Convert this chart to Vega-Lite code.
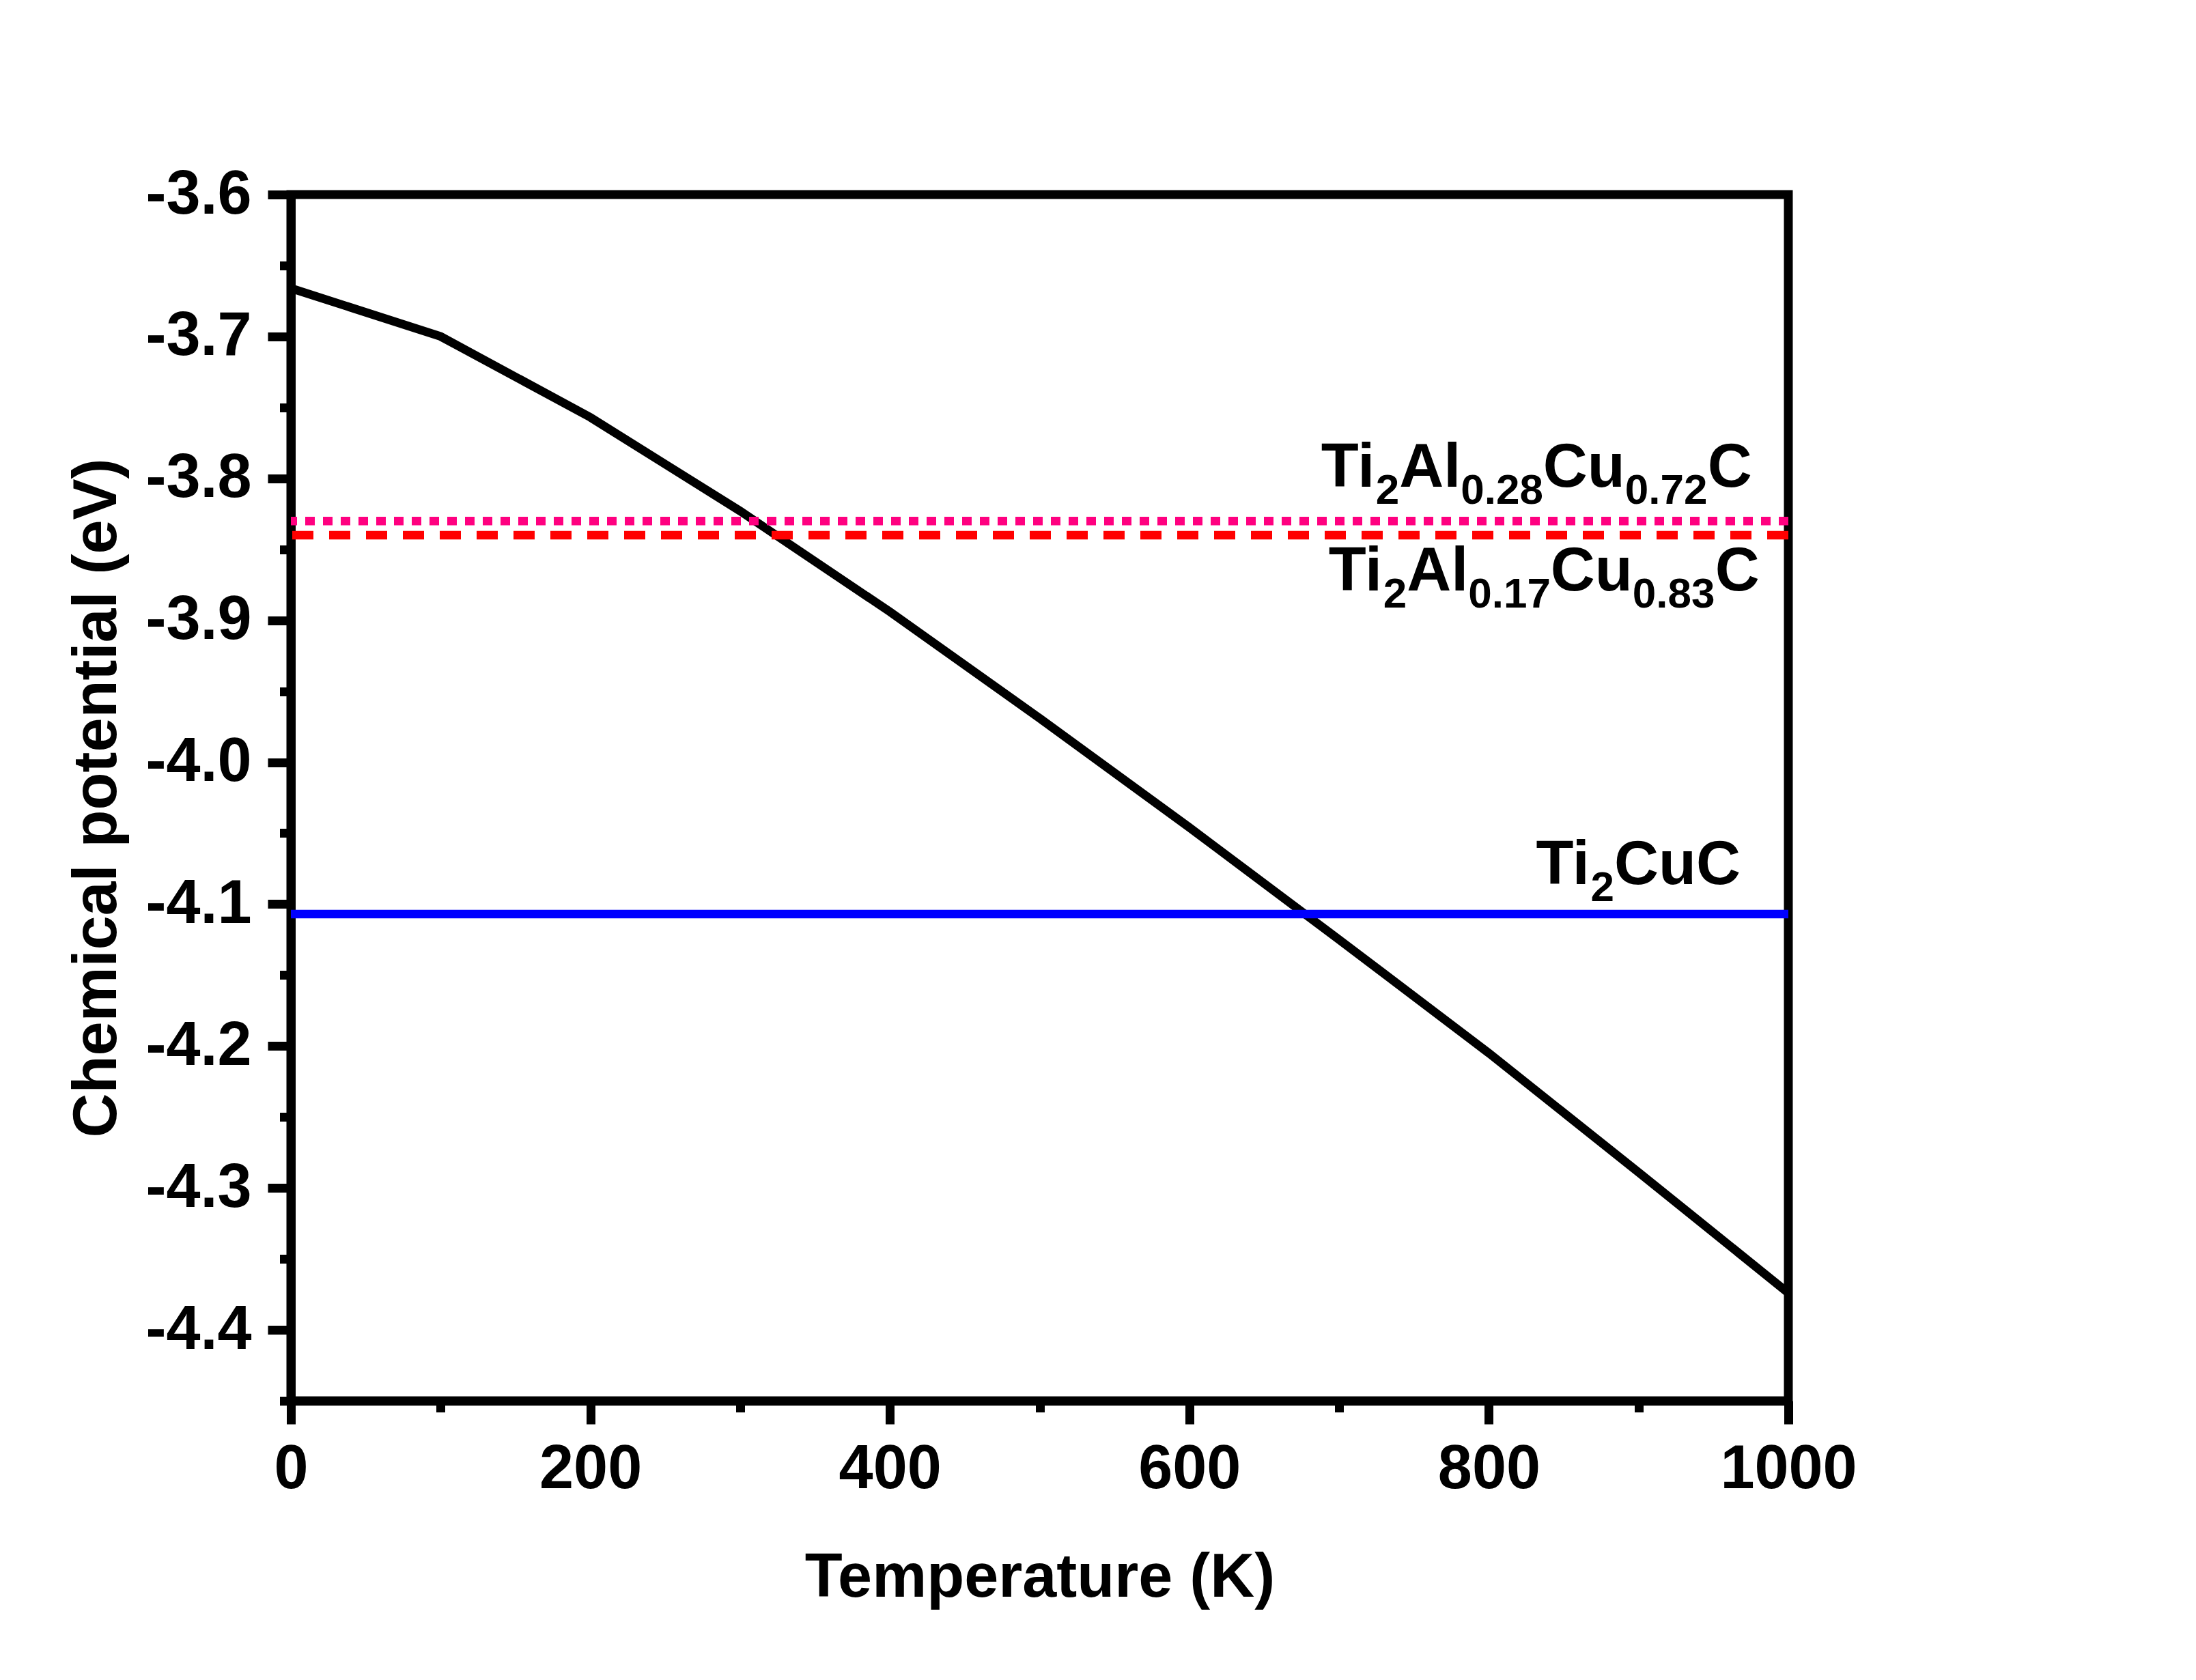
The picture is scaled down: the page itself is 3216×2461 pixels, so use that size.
{
  "$schema": "https://vega.github.io/schema/vega-lite/v6.json",
  "autosize": {"type": "none"},
  "padding": {"left": 426, "top": 285, "right": 597, "bottom": 409},
  "width": 2193,
  "height": 1767,
  "background": "white",
  "config": {
    "font": "Liberation Sans",
    "view": {"stroke": "black", "strokeWidth": 13},
    "axis": {"grid": false},
    "text": {"font": "Liberation Sans", "fontWeight": "bold", "color": "black", "align": "left", "baseline": "alphabetic"}
  },
  "datasets": {
    "curve": [
      {"T": 0, "E": -3.666},
      {"T": 100, "E": -3.700},
      {"T": 200, "E": -3.757},
      {"T": 250, "E": -3.790},
      {"T": 300, "E": -3.823},
      {"T": 400, "E": -3.894},
      {"T": 500, "E": -3.969},
      {"T": 600, "E": -4.046},
      {"T": 700, "E": -4.125},
      {"T": 800, "E": -4.205},
      {"T": 900, "E": -4.289},
      {"T": 1000, "E": -4.374}
    ],
    "levels": [
      {"phase": "Ti2Al0.28Cu0.72C", "E": -3.830},
      {"phase": "Ti2Al0.17Cu0.83C", "E": -3.840},
      {"phase": "Ti2CuC", "E": -4.107}
    ],
    "labels": [
      {"phase": "Ti2Al0.28Cu0.72C", "T": 688, "E": -3.806},
      {"phase": "Ti2Al0.17Cu0.83C", "T": 693, "E": -3.879},
      {"phase": "Ti2CuC", "T": 831.5, "E": -4.086}
    ]
  },
  "layer": [
    {
      "data": {"name": "curve"},
      "mark": {"type": "line", "color": "black", "strokeWidth": 12.5, "strokeJoin": "miter"},
      "encoding": {
        "x": {
          "field": "T", "type": "quantitative",
          "scale": {"domain": [0, 1000], "nice": false, "zero": false},
          "axis": {
            "title": "Temperature (K)",
            "values": [0, 100, 200, 300, 400, 500, 600, 700, 800, 900, 1000],
            "labelExpr": "datum.value % 200 == 0 ? format(datum.value, 'd') : ''",
            "domainColor": "black", "domainWidth": 13,
            "tickColor": "black", "tickWidth": 13,
            "tickSize": {"condition": {"test": "datum.value % 200 == 0", "value": 34}, "value": 16.5},
            "labelFont": "Liberation Sans", "labelFontWeight": "bold", "labelFontSize": 90, "labelColor": "black",
            "labelPadding": 22, "labelFlush": false, "labelOverlap": false, "labelBound": false, "labelLimit": 1000,
            "titleFont": "Liberation Sans", "titleFontWeight": "bold", "titleFontSize": 90, "titleColor": "black",
            "titlePadding": 70, "titleLimit": 3000
          }
        },
        "y": {
          "field": "E", "type": "quantitative",
          "scale": {"domain": [-4.45, -3.6], "nice": false, "zero": false},
          "axis": {
            "title": "Chemical potential (eV)",
            "values": [-3.6, -3.65, -3.7, -3.75, -3.8, -3.85, -3.9, -3.95, -4.0, -4.05, -4.1, -4.15, -4.2, -4.25, -4.3, -4.35, -4.4, -4.45],
            "labelExpr": "abs(datum.value * 10 - round(datum.value * 10)) < 0.001 ? replace(format(datum.value, '.1f'), '−', '-') : ''",
            "domainColor": "black", "domainWidth": 13,
            "tickColor": "black", "tickWidth": 13,
            "tickSize": {"condition": {"test": "abs(datum.value * 10 - round(datum.value * 10)) < 0.001", "value": 34}, "value": 16.5},
            "labelFont": "Liberation Sans", "labelFontWeight": "bold", "labelFontSize": 90, "labelColor": "black",
            "labelPadding": 24, "labelFlush": false, "labelOverlap": false, "labelBound": false, "labelLimit": 1000,
            "titleFont": "Liberation Sans", "titleFontWeight": "bold", "titleFontSize": 90, "titleColor": "black",
            "titlePadding": 38, "titleLimit": 3000
          }
        }
      }
    },
    {
      "data": {"name": "levels"},
      "mark": {"type": "rule", "strokeWidth": 12.5},
      "encoding": {
        "y": {"field": "E", "type": "quantitative"},
        "color": {
          "field": "phase", "type": "nominal", "legend": null,
          "scale": {"domain": ["Ti2Al0.28Cu0.72C", "Ti2Al0.17Cu0.83C", "Ti2CuC"], "range": ["#FF0080", "#FF0000", "#0000FF"]}
        },
        "strokeDash": {
          "field": "phase", "type": "nominal", "legend": null,
          "scale": {"domain": ["Ti2Al0.28Cu0.72C", "Ti2Al0.17Cu0.83C", "Ti2CuC"], "range": [[14, 12], [31, 23], [1, 0]]}
        }
      }
    },
    {
      "data": {"name": "labels"},
      "transform": [{"filter": "datum.phase == 'Ti2Al0.28Cu0.72C'"}],
      "encoding": {
        "x": {"field": "T", "type": "quantitative"},
        "y": {"field": "E", "type": "quantitative"}
      },
      "layer": [
        {"mark": {"type": "text", "text": "Ti", "fontSize": 90, "dx": 0}},
        {"mark": {"type": "text", "text": "2", "fontSize": 62, "dx": 80, "dy": 25}},
        {"mark": {"type": "text", "text": "Al", "fontSize": 90, "dx": 114.5}},
        {"mark": {"type": "text", "text": "0.28", "fontSize": 62, "dx": 204.5, "dy": 25}},
        {"mark": {"type": "text", "text": "Cu", "fontSize": 90, "dx": 325}},
        {"mark": {"type": "text", "text": "0.72", "fontSize": 62, "dx": 445, "dy": 25}},
        {"mark": {"type": "text", "text": "C", "fontSize": 90, "dx": 566}}
      ]
    },
    {
      "data": {"name": "labels"},
      "transform": [{"filter": "datum.phase == 'Ti2Al0.17Cu0.83C'"}],
      "encoding": {
        "x": {"field": "T", "type": "quantitative"},
        "y": {"field": "E", "type": "quantitative"}
      },
      "layer": [
        {"mark": {"type": "text", "text": "Ti", "fontSize": 90, "dx": 0}},
        {"mark": {"type": "text", "text": "2", "fontSize": 62, "dx": 80, "dy": 25}},
        {"mark": {"type": "text", "text": "Al", "fontSize": 90, "dx": 114.5}},
        {"mark": {"type": "text", "text": "0.17", "fontSize": 62, "dx": 204.5, "dy": 25}},
        {"mark": {"type": "text", "text": "Cu", "fontSize": 90, "dx": 325}},
        {"mark": {"type": "text", "text": "0.83", "fontSize": 62, "dx": 445, "dy": 25}},
        {"mark": {"type": "text", "text": "C", "fontSize": 90, "dx": 566}}
      ]
    },
    {
      "data": {"name": "labels"},
      "transform": [{"filter": "datum.phase == 'Ti2CuC'"}],
      "encoding": {
        "x": {"field": "T", "type": "quantitative"},
        "y": {"field": "E", "type": "quantitative"}
      },
      "layer": [
        {"mark": {"type": "text", "text": "Ti", "fontSize": 90, "dx": 0}},
        {"mark": {"type": "text", "text": "2", "fontSize": 62, "dx": 80, "dy": 25}},
        {"mark": {"type": "text", "text": "CuC", "fontSize": 90, "dx": 114.5}}
      ]
    }
  ]
}
